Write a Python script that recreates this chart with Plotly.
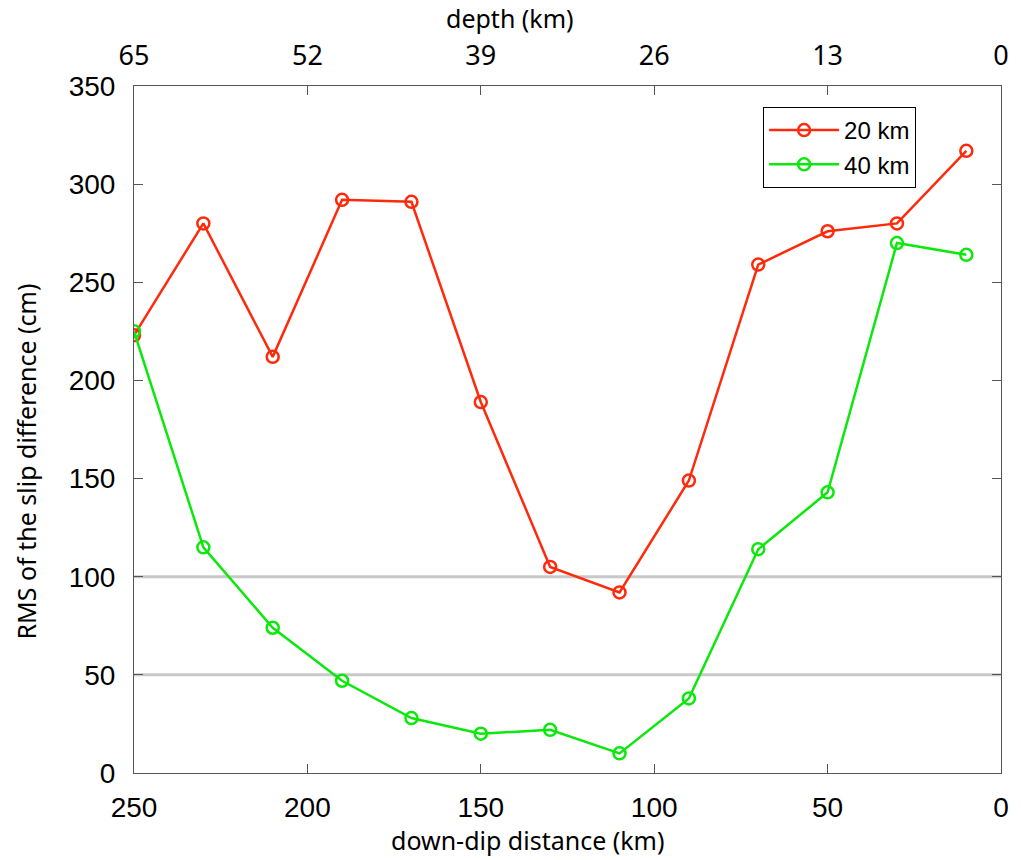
import plotly.graph_objects as go

distance_km = [250, 230, 210, 190, 170, 150, 130, 110, 90, 70, 50, 30, 10]
rms_20km = [223, 280, 212, 292, 291, 189, 105, 92, 149, 259, 276, 280, 317]
rms_40km = [225, 115, 74, 47, 28, 20, 22, 10, 38, 114, 143, 270, 264]
reference_levels = [100, 50]

x_ticks = [250, 200, 150, 100, 50, 0]
depth_labels = ["65", "52", "39", "26", "13", "0"]
y_ticks = [0, 50, 100, 150, 200, 250, 300, 350]

RED = "rgb(255,42,12)"
GREEN = "rgb(12,232,12)"
AX = "#555555"
TICKFONT = dict(family="Liberation Sans, Arial", size=28, color="black")
TITLEFONT = dict(family="Noto Sans, Open Sans", size=25, color="black")

fig = go.Figure()
fig.add_trace(go.Scatter(
    x=distance_km, y=rms_20km, name="20 km", mode="lines+markers",
    line=dict(color=RED, width=2.5),
    marker=dict(symbol="circle-open", size=12, color=RED, line=dict(width=2.5, color=RED)),
))
fig.add_trace(go.Scatter(
    x=distance_km, y=rms_40km, name="40 km", mode="lines+markers",
    line=dict(color=GREEN, width=2.5),
    marker=dict(symbol="circle-open", size=12, color=GREEN, line=dict(width=2.5, color=GREEN)),
))
# invisible trace to activate top axis
fig.add_trace(go.Scatter(x=[distance_km[0]], y=[rms_20km[0]], xaxis="x2", mode="markers",
                         marker=dict(opacity=0), showlegend=False, hoverinfo="skip"))

for lv in reference_levels:
    fig.add_shape(type="line", xref="paper", x0=0, x1=1, yref="y", y0=lv, y1=lv,
                  line=dict(color="#c8c8c8", width=3), layer="below")

fig.update_layout(
    width=1021, height=860,
    margin=dict(l=134, r=16, t=86, b=87),
    paper_bgcolor="white", plot_bgcolor="white",
    showlegend=True,
    legend=dict(x=(766 - 134) / 871, y=(773 - 107) / 687, xanchor="left", yanchor="top",
                bordercolor="black", borderwidth=1, bgcolor="white",
                font=dict(family="Liberation Sans, Arial", size=24, color="black"),
                tracegroupgap=0, itemwidth=70),
    xaxis=dict(range=[250, 0], tickvals=x_ticks, ticks="inside", ticklen=9, tickcolor=AX,
               showline=True, linecolor=AX, linewidth=1, mirror=True, showgrid=False,
               zeroline=False, tickfont=TICKFONT, ticklabelstandoff=9),
    xaxis2=dict(range=[250, 0], tickvals=x_ticks, ticktext=depth_labels, overlaying="x",
                side="top", ticks="inside", ticklen=9, tickcolor=AX, showline=False,
                showgrid=False, zeroline=False, ticklabelstandoff=15,
                tickfont=dict(family="Noto Sans, Open Sans", size=27, color="black")),
    yaxis=dict(range=[0, 350], tickvals=y_ticks, ticks="inside", ticklen=9, tickcolor=AX,
               showline=True, linecolor=AX, linewidth=1, mirror="ticks", showgrid=False,
               zeroline=False, tickfont=TICKFONT, ticklabelstandoff=12),
    annotations=[
        dict(text="down-dip distance (km)", xref="paper", yref="paper",
             x=(529 - 134) / 871, y=(773 - 840) / 687, showarrow=False,
             xanchor="center", yanchor="middle", font=TITLEFONT),
        dict(text="depth (km)", xref="paper", yref="paper",
             x=(512 - 134) / 871, y=(773 - 18) / 687, showarrow=False,
             xanchor="center", yanchor="middle", font=TITLEFONT),
        dict(text="RMS of the slip difference (cm)", xref="paper", yref="paper",
             x=(25 - 134) / 871, y=(773 - 462) / 687, showarrow=False, textangle=-90,
             xanchor="center", yanchor="middle", font=TITLEFONT),
    ],
)

fig.write_html("out.html")
